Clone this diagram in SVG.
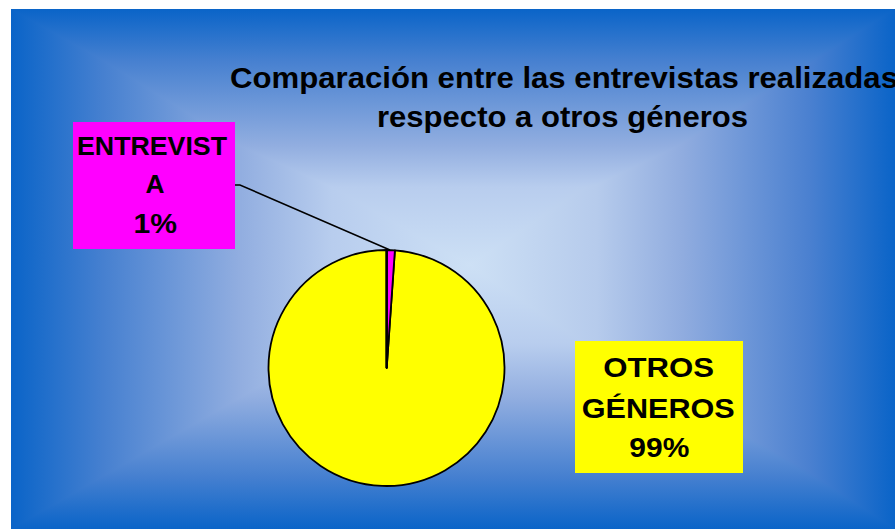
<svg xmlns="http://www.w3.org/2000/svg" width="895" height="529" viewBox="0 0 895 529">
<style>
.t{font-family:"Liberation Sans",Arial,sans-serif;font-weight:bold;fill:#000}
.edge{stroke:#000;stroke-width:1.8;stroke-linejoin:round}
</style>
<defs>
<linearGradient id="gh" gradientUnits="userSpaceOnUse" x1="11" y1="0" x2="895" y2="0">
<stop offset="0" stop-color="#0a64c8"/>
<stop offset="0.104" stop-color="#4680d0"/>
<stop offset="0.260" stop-color="#92aee0"/>
<stop offset="0.363" stop-color="#b8cdee"/>
<stop offset="0.519" stop-color="#cde0f5"/>
<stop offset="0.663" stop-color="#b6cbec"/>
<stop offset="0.760" stop-color="#90acdf"/>
<stop offset="0.904" stop-color="#4a80d0"/>
<stop offset="1" stop-color="#0a64c8"/>
</linearGradient>
<linearGradient id="gv" gradientUnits="userSpaceOnUse" x1="0" y1="9" x2="0" y2="529">
<stop offset="0" stop-color="#0a64c8"/>
<stop offset="0.0985" stop-color="#4680d0"/>
<stop offset="0.2635" stop-color="#92aee0"/>
<stop offset="0.3427" stop-color="#b8cdee"/>
<stop offset="0.4923" stop-color="#cde0f5"/>
<stop offset="0.6446" stop-color="#b8cdee"/>
<stop offset="0.7462" stop-color="#92aee0"/>
<stop offset="0.8985" stop-color="#4680d0"/>
<stop offset="1" stop-color="#0a64c8"/>
</linearGradient>
</defs>
<rect x="0" y="0" width="895" height="529" fill="#fff"/>
<g id="background" style="isolation:isolate">
<rect x="11" y="9" width="884" height="520" fill="url(#gh)"/>
<rect x="11" y="9" width="884" height="520" fill="url(#gv)" style="mix-blend-mode:darken"/>
</g>
<g id="title">
<text class="t" x="230" y="88" font-size="29" textLength="668" lengthAdjust="spacingAndGlyphs">Comparación entre las entrevistas realizadas</text>
<text class="t" x="377" y="127" font-size="29" textLength="371" lengthAdjust="spacingAndGlyphs">respecto a otros géneros</text>
</g>
<g id="pie">
<path class="edge" d="M386.7,368 L394.9,250.3 A118,118 0 1 1 386.7,250 Z" fill="#ffff00"/>
<path class="edge" d="M386.7,368 L386.7,250 A118,118 0 0 1 394.9,250.3 Z" fill="#ff00ff"/>
<line x1="386.7" y1="368" x2="386.7" y2="250" stroke="#000" stroke-width="2.5"/>
</g>
<g id="connectors">
<polyline points="235,185 240,185 390,250" fill="none" stroke="#000" stroke-width="1.5"/>
</g>
<g id="label-entrevista">
<rect x="73" y="122" width="162" height="127" fill="#ff00ff"/>
<text class="t" x="77" y="155" font-size="26" textLength="150" lengthAdjust="spacingAndGlyphs">ENTREVIST</text>
<text class="t" x="145.5" y="193" font-size="26" textLength="19" lengthAdjust="spacingAndGlyphs">A</text>
<text class="t" x="133.5" y="233" font-size="28" textLength="43.5" lengthAdjust="spacingAndGlyphs">1%</text>
</g>
<g id="label-otros">
<rect x="575" y="341" width="168" height="132" fill="#ffff00"/>
<text class="t" x="603.3" y="376.7" font-size="27" textLength="110.7" lengthAdjust="spacingAndGlyphs">OTROS</text>
<text class="t" x="581.7" y="417.5" font-size="28" textLength="153" lengthAdjust="spacingAndGlyphs">GÉNEROS</text>
<text class="t" x="629.3" y="456.7" font-size="28" textLength="60" lengthAdjust="spacingAndGlyphs">99%</text>
</g>
</svg>
